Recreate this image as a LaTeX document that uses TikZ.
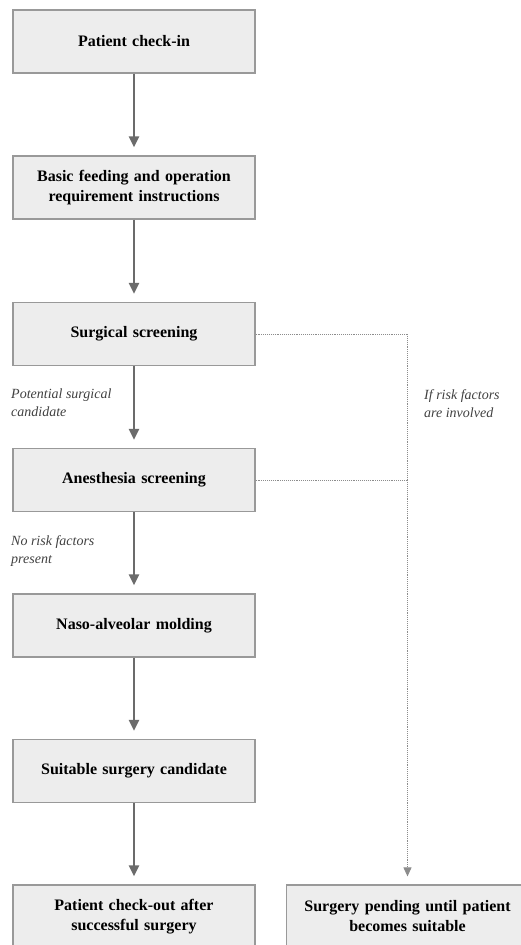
\documentclass[tikz,border=0pt]{standalone}
\usepackage{fontspec}
\setmainfont{Liberation Serif}
\usepackage{tikz}
\usetikzlibrary{arrows.meta}

\begin{document}
\begin{tikzpicture}[x=1pt, y=-1pt]
  \useasboundingbox (0,0) rectangle (521,945);

  \colorlet{boxfill}{black!7!white}
  \colorlet{boxline}{black!40!white}
  \colorlet{arrowc}{black!58!white}

  \tikzset{
    stepbox/.style = {draw = boxline, fill = boxfill, line width = 1.2pt,
      minimum width = 242pt, minimum height = 63pt, text width = 230pt,
      align = center, font = \fontsize{16}{20}\selectfont\bfseries},
    flow/.style = {draw = arrowc, line width = 2.6pt, shorten > = 8pt,
      -{Triangle[width = 10pt, length = 11pt]}},
    risk/.style = {draw = black!45!white, line width = 0.9pt, densely dotted},
    note/.style = {align = left, anchor = north west, inner sep = 0pt,
      font = \fontsize{14}{18}\selectfont\itshape, text = black!75!white}
  }

  % main column
  \foreach \n/\y/\t in {
    chkin/41.5/{Patient check-in},
    feed/187.5/{Basic feeding and operation\\requirement instructions},
    surg/334/{Surgical screening},
    anes/480/{Anesthesia screening},
    naso/625.5/{Naso-alveolar molding},
    suit/771/{Suitable surgery candidate},
    chkout/916.5/{Patient check-out after\\successful surgery}}{
      \node[stepbox] (\n) at (134,\y) {\t};
    }
  \node[stepbox] (pend) at (407.5,916.5) {Surgery pending until patient\\becomes suitable};

  % arrows between the boxes
  \foreach \a/\b in {chkin/feed, feed/surg, surg/anes, anes/naso, naso/suit, suit/chkout}
    \draw[flow] (\a) -- (\b);

  % risk factor branch
  \draw[risk, shorten > = 8pt, -{Triangle[width = 8pt, length = 9pt]}]
    (surg.east) -| (pend.north);
  \draw[risk] (anes.east) -- (anes.east -| pend.north);

  \node[note] (lpot) at (11,389) {Potential surgical\\candidate};
  \node[note] (lrisk) at (424,389) {If risk factors\\are involved};
  \node[note] (lnone) at (11,535) {No risk factors\\present};
\end{tikzpicture}
\end{document}
